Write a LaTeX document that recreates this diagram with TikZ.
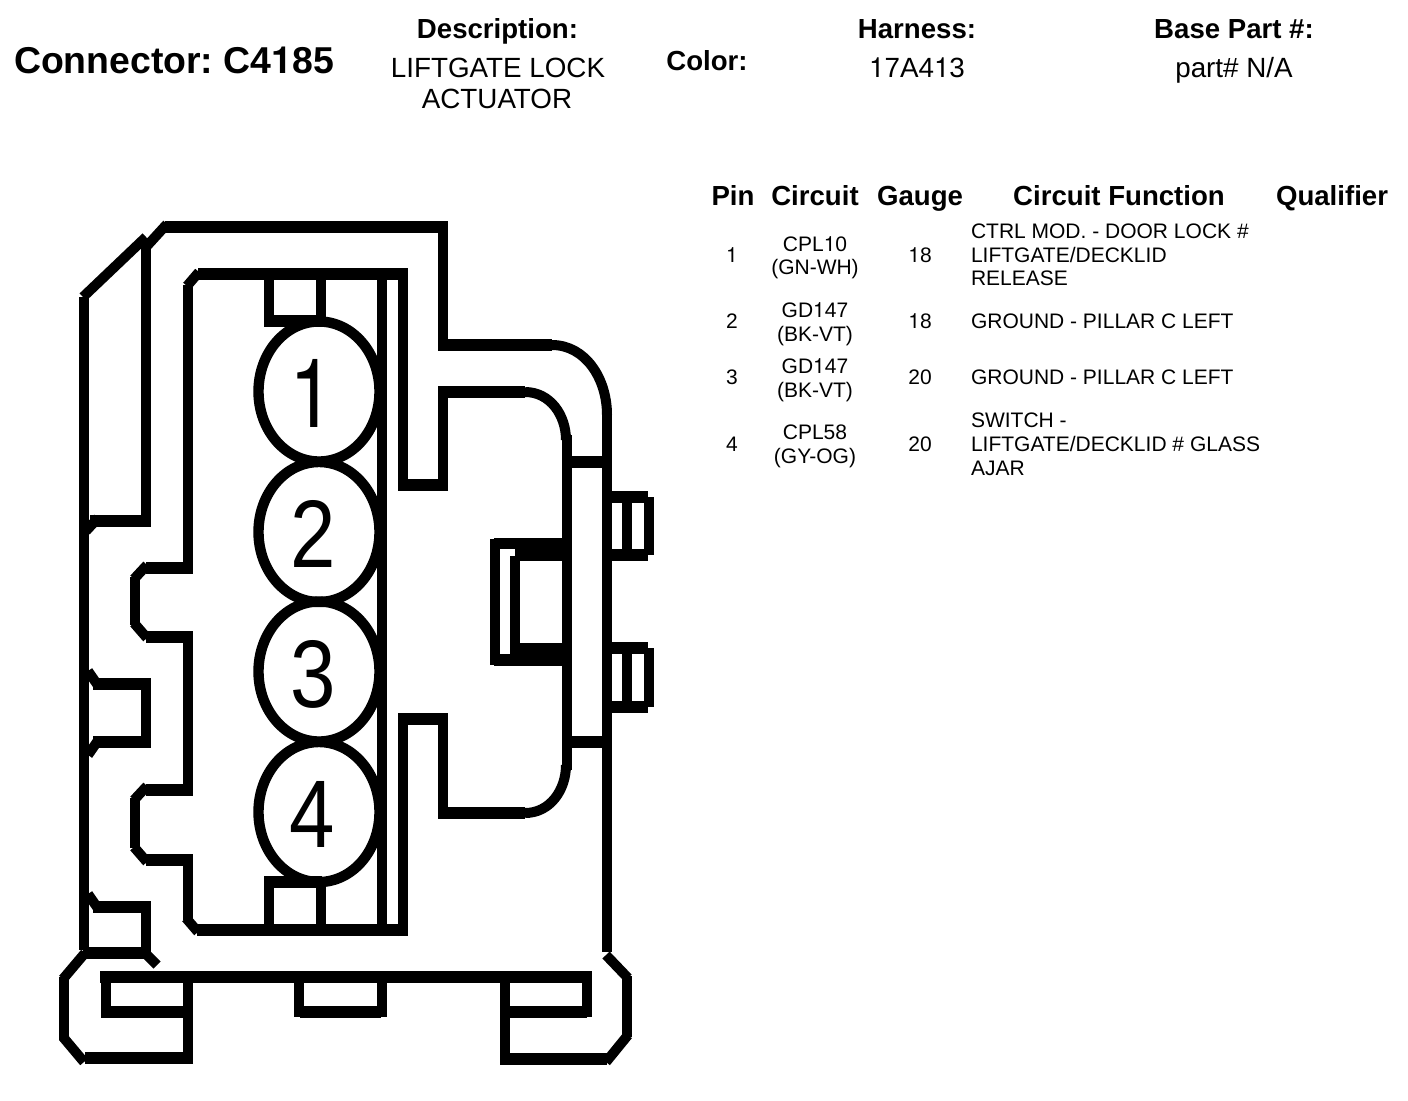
\documentclass[tikz,border=0pt]{standalone}
\usepackage{fontspec}
\usepackage{graphicx}
\setmainfont{Liberation Sans}
\newfontfamily\heros{TeX Gyre Heros}
\frenchspacing
\newcommand{\narrowdigit}[1]{\scalebox{0.85}[1]{#1}}
\newcommand{\onef}{{\heros 1}}
\begin{document}
\begin{tikzpicture}[x=0.5pt,y=-0.5pt,
  vw/.style={line width=5pt},
  hw/.style={line width=5.8pt},
  dw/.style={line width=5pt},
  pinring/.style={line width=5.2pt},
  txt/.style={inner sep=0pt,outer sep=0pt,anchor=base},
  ltxt/.style={inner sep=0pt,outer sep=0pt,anchor=base west},
  big/.style={font=\fontsize{18.7}{20}\bfseries\selectfont},
  head/.style={font=\fontsize{13.8}{15}\bfseries\selectfont},
  val/.style={font=\fontsize{13.9}{15}\selectfont},
  cell/.style={font=\fontsize{10.5}{12}\selectfont,yshift=0.5pt},
  digit/.style={font=\fontsize{48}{50}\selectfont}]
\useasboundingbox (0,0) rectangle (1408,1100);
\fill[white] (0,0) rectangle (1408,1100);

% outer body, verticals
\draw[vw] (84,297) -- (84,950);
\draw[vw] (146,245) -- (146,527);
\draw[vw] (443,221) -- (443,351);
\draw[vw] (607,415) -- (607,952);
\draw[vw] (146,678) -- (146,748);
\draw[vw] (146,901) -- (146,953);
% outer body, horizontals
\draw[hw] (165,227) -- (447,227);
\draw[hw] (443,345) -- (552,345);
\draw[hw] (90,521) -- (151,521);
\draw[hw] (93,684) -- (151,684);
\draw[hw] (93,742) -- (151,742);
\draw[hw] (93,907) -- (151,907);
\draw[hw] (83,953) -- (148,953);
% outer body, diagonals and curve
\draw[dw] (83,297) -- (146,237);
\draw[dw] (146,247) -- (167,224);
\draw[dw] (86,531) -- (98,518);
\draw[dw] (88,671) -- (97,684);
\draw[dw] (88,755) -- (97,742);
\draw[dw] (88,894) -- (97,907);
\draw[dw] (143,951) -- (157,965);
\draw[vw] (552,345) .. controls (585,345) and (607,378) .. (607,415);

% inner cavity
\draw[hw] (198,274) -- (408,274);
\draw[dw] (187,286) -- (199,272);
\draw[vw] (188,285) -- (188,573);
\draw[hw] (146,568) -- (193,568);
\draw[dw] (134,579) -- (147,565);
\draw[vw] (135,577) -- (135,625);
\draw[dw] (134,623) -- (147,638);
\draw[hw] (146,637) -- (193,637);
\draw[vw] (188,632) -- (188,795);
\draw[hw] (146,790) -- (193,790);
\draw[dw] (134,800) -- (147,786);
\draw[vw] (135,798) -- (135,848);
\draw[dw] (134,847) -- (147,862);
\draw[hw] (146,860) -- (193,860);
\draw[vw] (188,855) -- (188,920);
\draw[dw] (186,918) -- (198,932);
\draw[hw] (197,930) -- (407,930);
\draw[vw] (403,936) -- (403,714);
\draw[hw] (398,719) -- (448,719);
\draw[vw] (443,714) -- (443,818);
\draw[hw] (438,813) -- (525,813);
\draw[vw] (525,813) .. controls (550,813) and (566,790) .. (566,765);
\draw[vw] (567,770) -- (567,435);
\draw[vw] (566,440) .. controls (566,415) and (550,392) .. (525,392);
\draw[hw] (525,392) -- (438,392);
\draw[vw] (443,387) -- (443,490);
\draw[hw] (448,485) -- (398,485);
\draw[vw] (403,490) -- (403,269);

% rail and stubs
\draw[vw] (382,274) -- (382,930);
\draw[vw] (269,274) -- (269,327);
\draw[hw] (264,321) -- (322,321);
\draw[vw] (321,274) -- (321,320);
\draw[vw] (269,930) -- (269,877);
\draw[hw] (264,882) -- (322,882);
\draw[vw] (321,930) -- (321,880);

% pin rings
\draw[pinring] (319,391.5) ellipse [x radius=60.5,y radius=70];
\draw[pinring] (319,532) ellipse [x radius=60.5,y radius=70];
\draw[pinring] (319,671.5) ellipse [x radius=60.5,y radius=70];
\draw[pinring] (319,812) ellipse [x radius=60.5,y radius=70];
\node[txt,digit] (p1) at (312,427) {\narrowdigit{\heros 1}};
\node[txt,digit] (p2) at (313,567) {\narrowdigit{2}};
\node[txt,digit] (p3) at (313,707) {\narrowdigit{3}};
\node[txt,digit] (p4) at (312,847) {\narrowdigit{4}};

% right rails and tabs
\draw[hw] (567,462) -- (607,462);
\draw[hw] (567,742) -- (607,742);
\draw[hw] (607,497) -- (648,497);
\draw[hw] (607,555) -- (648,555);
\draw[vw] (649,497) -- (649,555);
\draw[vw] (627,497) -- (627,555);
\draw[hw] (607,648) -- (648,648);
\draw[hw] (607,707) -- (648,707);
\draw[vw] (649,648) -- (649,707);
\draw[vw] (627,648) -- (627,707);

% latch
\draw[hw] (494,543.5) -- (516,543.5);
\draw[hw] (494,660) -- (516,660);
\draw[vw] (495,539) -- (495,665);
\fill (515,538) rectangle (567,561);
\fill (515,643) rectangle (567,666);
\draw[vw] (515,556) -- (515,654);

% bottom flange
\draw[hw] (100,977) -- (592,977);
\draw[vw] (106,972) -- (106,1018);
\draw[hw] (101,1012) -- (190,1012);
\draw[vw] (188,977) -- (188,1064);
\draw[hw] (193,1058) -- (85,1058);
\draw[dw] (84,1062) -- (63,1037);
\draw[vw] (64,1040) -- (64,977);
\draw[dw] (63,979) -- (85,953);
\draw[vw] (299,977) -- (299,1017);
\draw[hw] (300,1012) -- (381,1012);
\draw[vw] (382,977) -- (382,1017);
\draw[vw] (505,977) -- (505,1064);
\draw[hw] (500,1012) -- (587,1012);
\draw[vw] (587,972) -- (587,1017);
\draw[hw] (500,1059) -- (607,1059);
\draw[dw] (606,1062) -- (628,1035);
\draw[vw] (627,1037) -- (627,976);
\draw[dw] (628,978) -- (606,955);

% title block
\node[ltxt,big] (conn) at (14,73) {Connector: C4\onef85};
\node[txt,head] (desc) at (497.5,38) {Description:};
\node[txt,val] (d1) at (498,77.5) {LIFTGATE LOCK};
\node[txt,val] (d2) at (497,108) {ACTUATOR};
\node[txt,head] (color) at (707,70) {Color:};
\node[txt,head] (harn) at (917,38) {Harness:};
\node[txt,val] (harnv) at (917,77) {\onef7A4\onef3};
\node[txt,head] (base) at (1234,38) {Base Part \#:};
\node[txt,val] (basev) at (1234,77) {part\# N/A};

% table header
\node[txt,head,yshift=0.5pt] (hpin) at (733,206) {Pin};
\node[txt,head,yshift=0.5pt] (hcir) at (815,206) {Circuit};
\node[txt,head,yshift=0.5pt] (hgau) at (920,206) {Gauge};
\node[txt,head,yshift=0.5pt] (hfun) at (1119,206) {Circuit Function};
\node[txt,head,yshift=0.5pt] (hqua) at (1332,206) {Qualifier};

% row 1
\node[txt,cell] (r1p) at (732,263) {\onef};
\node[txt,cell] (r1c) at (815,252) {CPL\onef0};
\node[txt,cell] (r1w) at (815,275) {(GN-WH)};
\node[txt,cell] (r1g) at (920,263) {\onef8};
\node[ltxt,cell] (r1a) at (971,239) {CTRL MOD. - DOOR LOCK \#};
\node[ltxt,cell] (r1b) at (971,263) {LIFTGATE/DECKLID};
\node[ltxt,cell] (r1d) at (971,286) {RELEASE};
% row 2
\node[txt,cell] (r2p) at (732,329) {2};
\node[txt,cell] (r2c) at (815,318) {GD\onef47};
\node[txt,cell] (r2w) at (815,342) {(BK-VT)};
\node[txt,cell] (r2g) at (920,329) {\onef8};
\node[ltxt,cell] (r2a) at (971,329) {GROUND - PILLAR C LEFT};
% row 3
\node[txt,cell] (r3p) at (732,385) {3};
\node[txt,cell] (r3c) at (815,374) {GD\onef47};
\node[txt,cell] (r3w) at (815,398) {(BK-VT)};
\node[txt,cell] (r3g) at (920,385) {20};
\node[ltxt,cell] (r3a) at (971,385) {GROUND - PILLAR C LEFT};
% row 4
\node[txt,cell] (r4p) at (732,452) {4};
\node[txt,cell] (r4c) at (815,440) {CPL58};
\node[txt,cell] (r4w) at (815,464) {(GY-OG)};
\node[txt,cell] (r4g) at (920,452) {20};
\node[ltxt,cell] (r4a) at (971,428) {SWITCH -};
\node[ltxt,cell] (r4b) at (971,452) {LIFTGATE/DECKLID \# GLASS};
\node[ltxt,cell] (r4d) at (971,476) {AJAR};
\end{tikzpicture}
\end{document}
